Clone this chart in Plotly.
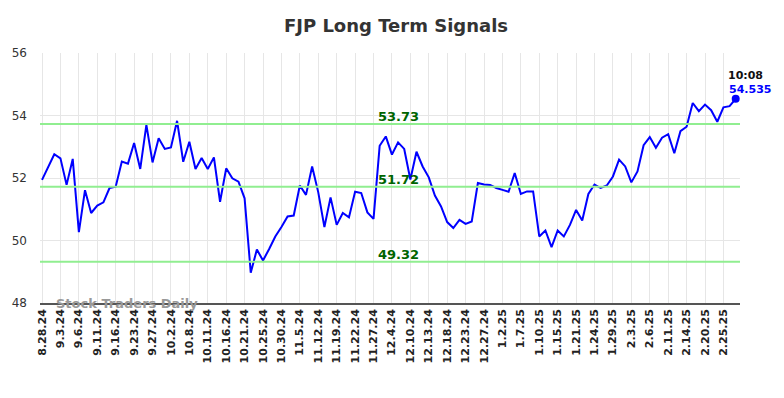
import plotly.graph_objects as go

title = "FJP Long Term Signals"
tick_labels = ["8.28.24", "9.3.24", "9.6.24", "9.11.24", "9.16.24", "9.23.24", "9.27.24",
               "10.2.24", "10.8.24", "10.11.24", "10.16.24", "10.21.24", "10.25.24", "10.30.24",
               "11.5.24", "11.12.24", "11.19.24", "11.22.24", "11.27.24", "12.4.24", "12.10.24",
               "12.13.24", "12.18.24", "12.23.24", "12.27.24", "1.2.25", "1.7.25", "1.10.25",
               "1.15.25", "1.21.25", "1.24.25", "1.29.25", "2.3.25", "2.6.25", "2.11.25",
               "2.14.25", "2.20.25", "2.25.25"]
prices = [51.94, 52.34, 52.76, 52.63, 51.78, 52.61, 50.27, 51.61, 50.88, 51.12,
          51.22, 51.68, 51.72, 52.53, 52.46, 53.12, 52.29, 53.70, 52.50, 53.27,
          52.93, 52.98, 53.83, 52.52, 53.16, 52.29, 52.64, 52.29, 52.66, 51.24,
          52.31, 51.99, 51.88, 51.35, 48.97, 49.71, 49.36, 49.73, 50.13, 50.43,
          50.77, 50.80, 51.76, 51.46, 52.37, 51.54, 50.43, 51.38, 50.50, 50.88,
          50.74, 51.56, 51.52, 50.90, 50.69, 53.03, 53.33, 52.75, 53.14, 52.93,
          51.95, 52.84, 52.37, 52.02, 51.44, 51.09, 50.59, 50.40, 50.66, 50.53,
          50.61, 51.84, 51.79, 51.78, 51.68, 51.62, 51.56, 52.16, 51.49, 51.57,
          51.57, 50.13, 50.32, 49.79, 50.32, 50.13, 50.50, 50.98, 50.64, 51.49,
          51.79, 51.68, 51.76, 52.05, 52.59, 52.37, 51.86, 52.21, 53.05, 53.31,
          52.97, 53.29, 53.40, 52.79, 53.50, 53.64, 54.40, 54.14, 54.35, 54.17,
          53.80, 54.26, 54.30, 54.535]
signal_levels = [53.73, 51.72, 49.32]
last_time = "10:08"
watermark = "Stock Traders Daily"

x = list(range(len(prices)))
tick_vals = list(range(0, len(prices), 3))[:len(tick_labels)]

fig = go.Figure()
fig.add_trace(go.Scatter(x=x, y=prices, mode="lines",
                         line=dict(color="#0000ff", width=2), hoverinfo="skip"))
fig.add_trace(go.Scatter(x=[x[-1]], y=[prices[-1]], mode="markers",
                         marker=dict(color="#0000ff", size=8), hoverinfo="skip"))

for lvl in signal_levels:
    fig.add_shape(type="line", xref="paper", x0=0, x1=1, y0=lvl, y1=lvl,
                  line=dict(color="#90ee90", width=2), layer="above")
    fig.add_annotation(x=58, y=lvl, text="<b>%.2f</b>" % lvl, showarrow=False,
                       yanchor="bottom", yshift=-2, xanchor="center",
                       font=dict(family="DejaVu Sans", size=13, color="#006400"))

fig.add_annotation(x=x[-1], y=prices[-1], text="<b>%s</b>" % last_time, showarrow=False,
                   xanchor="center", yanchor="bottom", xshift=10, yshift=15,
                   font=dict(family="DejaVu Sans", size=11, color="#111111"))
fig.add_annotation(x=x[-1], y=prices[-1], text="<b>%s</b>" % prices[-1], showarrow=False,
                   xanchor="center", yanchor="bottom", xshift=14, yshift=1,
                   font=dict(family="DejaVu Sans", size=11, color="#0000ff"))
fig.add_annotation(xref="paper", yref="paper", x=0.02, y=0.0, text="<b>%s</b>" % watermark,
                   showarrow=False, xanchor="left", yanchor="middle",
                   font=dict(family="DejaVu Sans", size=13, color="#999999"))

# page body has an 8px default margin, so the figure is sized to fit the window
fig.update_layout(
    width=776, height=390,
    margin=dict(l=32, r=44, t=45, b=95),
    paper_bgcolor="white", plot_bgcolor="white",
    showlegend=False,
    title=dict(text="<b>%s</b>" % title, x=0.5, xanchor="center", y=0.954, yanchor="middle",
               font=dict(family="DejaVu Sans", size=18, color="#333333")),
    font=dict(family="DejaVu Sans", color="#333333"),
)
fig.update_xaxes(range=[-0.33, 113.7], tickmode="array", tickvals=tick_vals,
                 ticktext=["<b>%s</b>" % t for t in tick_labels], tickangle=-90,
                 tickfont=dict(size=11, color="#222222"),
                 showgrid=True, gridcolor="#e6e6e6", gridwidth=1, automargin=False,
                 showline=True, linecolor="#555555", linewidth=1.5, zeroline=False)
fig.update_yaxes(range=[48, 56], tickvals=[48, 50, 52, 54, 56],
                 tickfont=dict(size=12, color="#333333"), ticks="", ticklen=0,
                 ticklabelstandoff=12, automargin=False,
                 showgrid=True, gridcolor="#e6e6e6", gridwidth=1, zeroline=False,
                 showline=False)

fig.write_html("out.html")
